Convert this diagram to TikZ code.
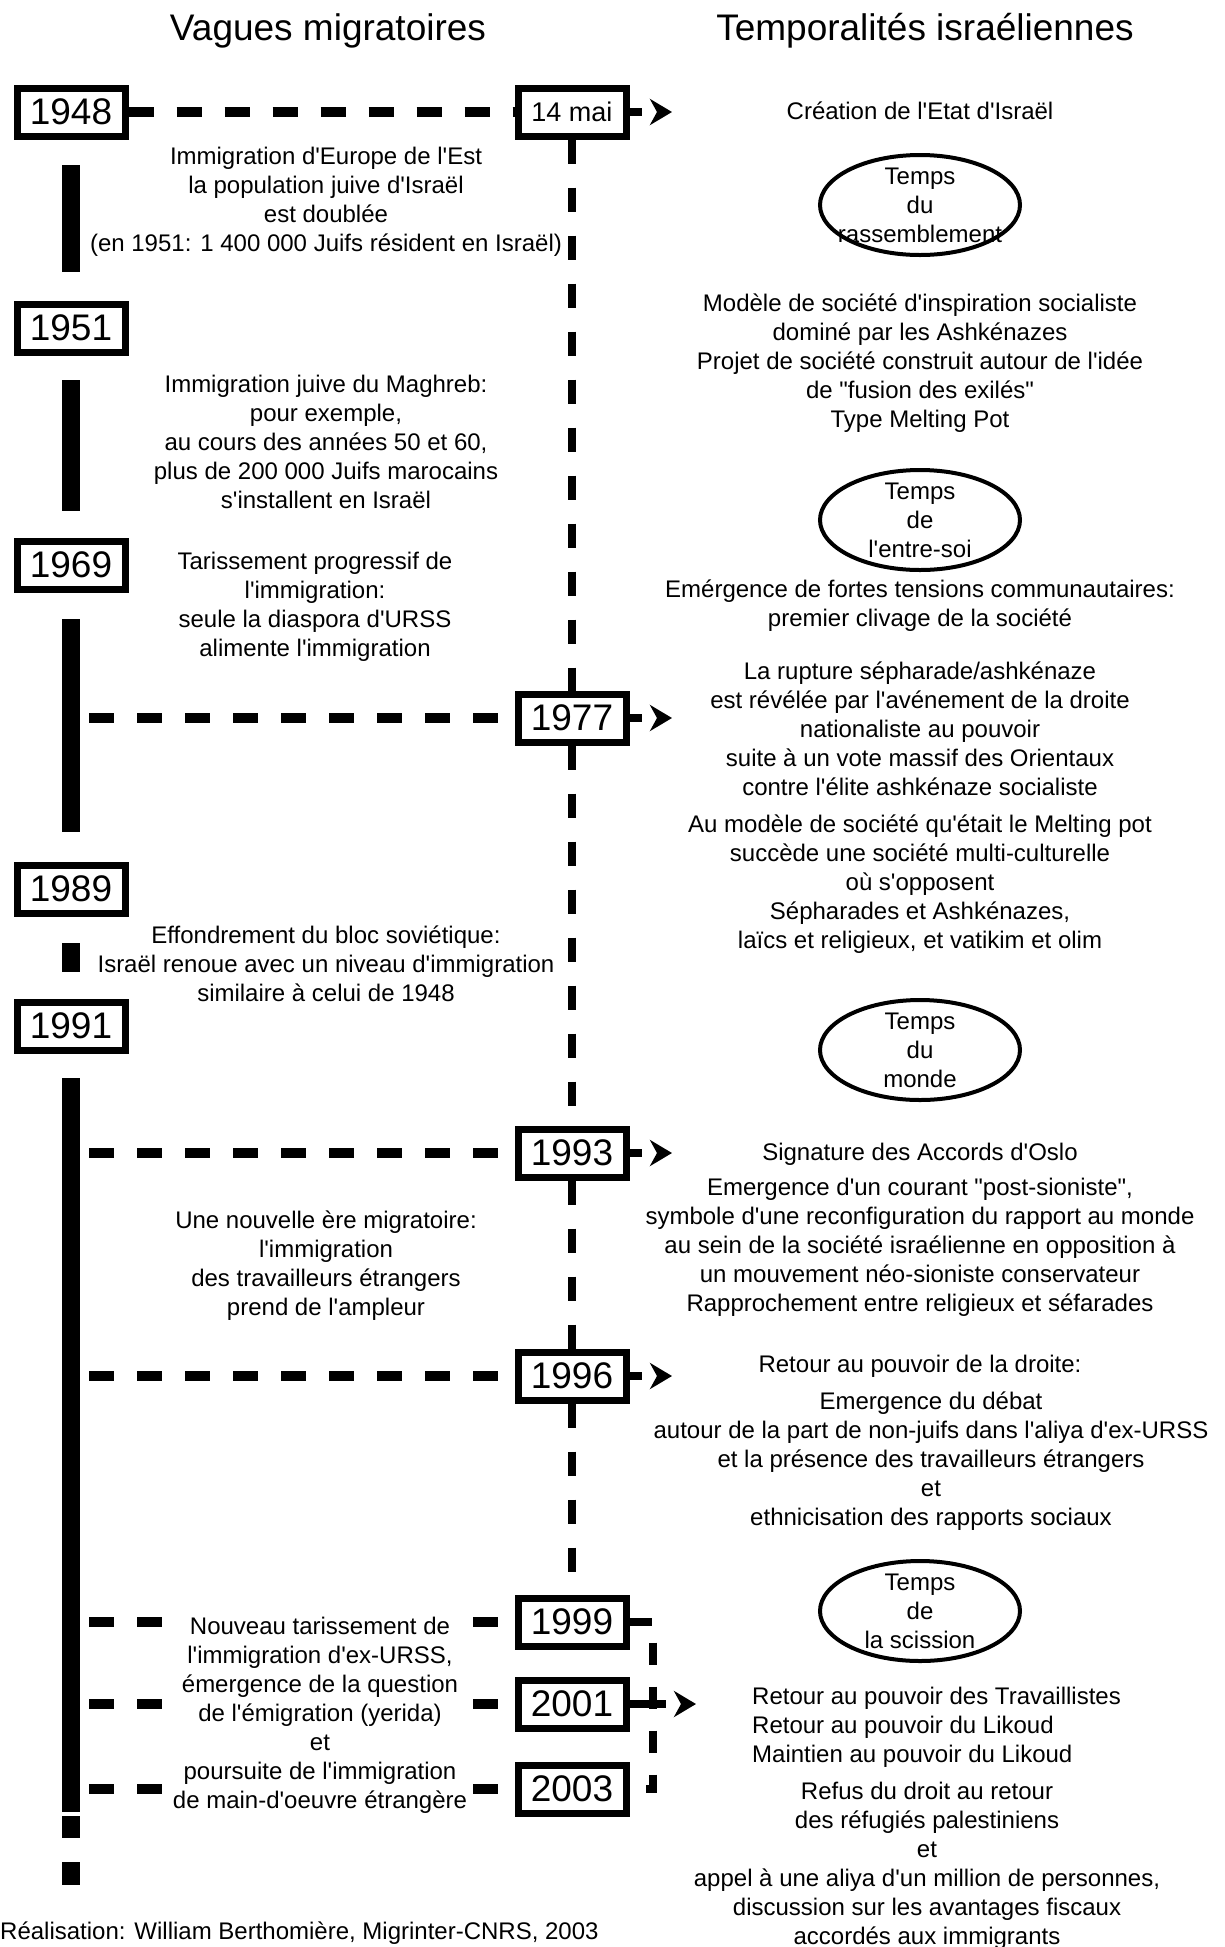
\documentclass[tikz,border=0pt]{standalone}
\usepackage{fontspec}
\setmainfont{Liberation Sans}[Ligatures=TeXOff]
\usetikzlibrary{arrows.meta, shapes.geometric}

\tikzset{
  yearbox/.style={draw, line width=7pt, minimum width=108pt, minimum height=48pt, inner sep=0pt, font=\fontsize{37}{37}\selectfont},
  datebox/.style={yearbox, font=\fontsize{27}{27}\selectfont},
  txt/.style={align=center, inner sep=1pt, font=\fontsize{24}{29}\selectfont},
  heading/.style={font=\fontsize{37}{37}\selectfont},
  period/.style={ellipse, draw, line width=4pt, minimum width=200pt, minimum height=100pt},
  hdash/.style={line width=10pt, dash pattern=on 25pt off 23pt},
  vdash/.style={line width=8pt, dash pattern=on 24pt off 24pt},
  wave/.style={line width=18pt},
  pointer/.style={line width=8pt, dash pattern=on 12pt off 40pt, -{Stealth[length=22pt, width=26pt, inset=7pt]}},
}

\begin{document}
\begin{tikzpicture}[x=1pt, y=-1pt]
  \useasboundingbox (0,0) rectangle (1224,1947);

  % --- headings ---
  \node[heading] (hwaves) at (328,31) {Vagues migratoires};
  \node[heading] (htimes) at (925,31) {Temporalités israéliennes};

  % --- migration bar ---
  \draw[wave] (71,165) -- (71,272);
  \draw[wave] (71,380) -- (71,511);
  \draw[wave] (71,619) -- (71,832);
  \draw[wave] (71,943) -- (71,972);
  \draw[wave] (71,1078) -- (71,1812);
  \draw[wave] (71,1816) -- (71,1838);
  \draw[wave] (71,1862) -- (71,1885);

  % --- years, left ---
  \node[yearbox] (b1948) at (71,112) {1948};
  \node[yearbox] (b1951) at (71,328) {1951};
  \node[yearbox] (b1969) at (71,565) {1969};
  \node[yearbox] (b1989) at (71,889) {1989};
  \node[yearbox] (b1991) at (71,1026) {1991};

  % --- dates, middle ---
  \node[datebox] (b14mai) at (572,112) {14 mai};
  \node[yearbox] (b1977) at (572,718) {1977};
  \node[yearbox] (b1993) at (572,1153) {1993};
  \node[yearbox] (b1996) at (572,1376) {1996};
  \node[yearbox] (b1999) at (572,1622) {1999};
  \node[yearbox] (b2001) at (572,1704) {2001};
  \node[yearbox] (b2003) at (572,1789) {2003};

  % free ends
  \coordinate (s1977) at (89,718);
  \coordinate (s1993) at (89,1153);
  \coordinate (s1996) at (89,1376);
  \coordinate (s1999) at (89,1622);
  \coordinate (s2001) at (89,1704);
  \coordinate (s2003) at (89,1789);
  \coordinate (t14mai) at (672,112);
  \coordinate (t1977) at (672,718);
  \coordinate (t1993) at (672,1153);
  \coordinate (t1996) at (672,1376);
  \coordinate (t2001) at (696,1704);
  \coordinate (j2003) at (653,1789);

  % horizontal links
  \draw[hdash] (b1948.east) -- (b14mai.west);
  \draw[hdash] (s1977) -- (b1977.west);
  \draw[hdash] (s1993) -- (b1993.west);
  \draw[hdash] (s1996) -- (b1996.west);
  \draw[hdash] (s1999) -- (b1999.west);
  \draw[hdash] (s2001) -- (b2001.west);
  \draw[hdash] (s2003) -- (b2003.west);

  % vertical links
  \draw[vdash] (b14mai.south) -- (b1977.north);
  \draw[vdash] (b1977.south) -- (b1993.north);
  \draw[vdash] (b1993.south) -- (b1996.north);
  \draw[vdash] (b1996.south) -- (b1999.north);
  \draw[vdash, dash pattern=on 22pt off 22pt] (b1999.east) -| (j2003) -- (b2003.east);

  % arrows
  \draw[pointer] (b14mai.east) -- (t14mai);
  \draw[pointer] (b1977.east) -- (t1977);
  \draw[pointer] (b1993.east) -- (t1993);
  \draw[pointer] (b1996.east) -- (t1996);
  \draw[pointer, dash pattern=on 36pt off 20pt] (b2001.east) -- (t2001);

  % --- left texts ---
  \node[txt] (europe) at (326,202) {Immigration d'Europe de l'Est\\la population juive d'Israël\\est doublée\\(en 1951: 1 400 000 Juifs résident en Israël)};
  \node[txt] (maghreb) at (326,442) {Immigration juive du Maghreb:\\pour exemple,\\au cours des années 50 et 60,\\plus de 200 000 Juifs marocains\\s'installent en Israël};
  \node[txt] (tarissement) at (315,607) {Tarissement progressif de\\l'immigration:\\seule la diaspora d'URSS\\alimente l'immigration};
  \node[txt] (effondrement) at (326,964) {Effondrement du bloc soviétique:\\Israël renoue avec un niveau d'immigration\\similaire à celui de 1948};
  \node[txt] (nouvelle) at (326,1266) {Une nouvelle ère migratoire:\\l'immigration\\des travailleurs étrangers\\prend de l'ampleur};
  \node[txt, fill=white] (nouveau) at (320,1715) {Nouveau tarissement de\\l'immigration d'ex-URSS,\\émergence de la question\\de l'émigration (yerida)\\et\\poursuite de l'immigration\\de main-d'oeuvre étrangère};
  \node[txt, anchor=west, inner sep=0pt] (credit) at (0,1933) {Réalisation: William Berthomière, Migrinter-CNRS, 2003};

  % --- periods ---
  \node[period] (rassemblement) at (920,205) {};
  \node[txt] at (rassemblement.center) {Temps\\du\\rassemblement};
  \node[period] (entresoi) at (920,520) {};
  \node[txt] at (entresoi.center) {Temps\\de\\l'entre-soi};
  \node[period] (monde) at (920,1050) {};
  \node[txt] at (monde.center) {Temps\\du\\monde};
  \node[period] (scission) at (920,1611) {};
  \node[txt] at (scission.center) {Temps\\de\\la scission};

  % --- right texts ---
  \node[txt] (creation) at (920,111) {Création de l'Etat d'Israël};
  \node[txt] (modele) at (920,363) {Modèle de société d'inspiration socialiste\\dominé par les Ashkénazes\\Projet de société construit autour de l'idée\\de "fusion des exilés"\\Type Melting Pot};
  \node[txt] (tensions) at (920,606) {Emérgence de fortes tensions communautaires:\\premier clivage de la société};
  \node[txt] (rupture) at (920,729) {La rupture sépharade/ashkénaze\\est révélée par l'avénement de la droite\\nationaliste au pouvoir\\suite à un vote massif des Orientaux\\contre l'élite ashkénaze socialiste};
  \node[txt] (multi) at (920,884) {Au modèle de société qu'était le Melting pot\\succède une société multi-culturelle\\où s'opposent\\Sépharades et Ashkénazes,\\laïcs et religieux, et vatikim et olim};
  \node[txt] (oslo) at (920,1154) {Signature des Accords d'Oslo};
  \node[txt] (postsionisme) at (920,1247) {Emergence d'un courant "post-sioniste",\\symbole d'une reconfiguration du rapport au monde\\au sein de la société israélienne en opposition à\\un mouvement néo-sioniste conservateur\\Rapprochement entre religieux et séfarades};
  \node[txt] (droite) at (920,1366) {Retour au pouvoir de la droite:};
  \node[txt] (debat) at (931,1461) {Emergence du débat\\autour de la part de non-juifs dans l'aliya d'ex-URSS\\et la présence des travailleurs étrangers\\et\\ethnicisation des rapports sociaux};
  \node[txt, align=left, anchor=west] (pouvoir) at (751,1727) {Retour au pouvoir des Travaillistes\\Retour au pouvoir du Likoud\\Maintien au pouvoir du Likoud};
  \node[txt] (refus) at (927,1866) {Refus du droit au retour\\des réfugiés palestiniens\\et\\appel à une aliya d'un million de personnes,\\discussion sur les avantages fiscaux\\accordés aux immigrants};
\end{tikzpicture}
\end{document}
